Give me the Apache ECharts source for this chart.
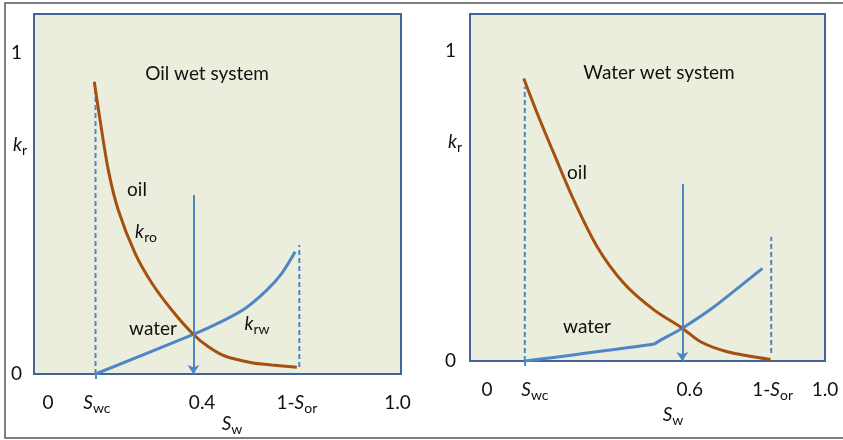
<!DOCTYPE html>
<html><head><meta charset="utf-8">
<script src="https://cdn.jsdelivr.net/npm/echarts@6/dist/echarts.min.js"></script>
<style>html,body{margin:0;padding:0;background:#fff}#c{width:843px;height:440px}</style>
</head><body><div id="c"></div>
<script>
// ---------- Oil wet system (left panel) ----------
const oilWetKro = [[0.1325,0.909],[0.149,0.790],[0.1725,0.635],[0.201,0.510],[0.249,0.376],[0.297,0.283],[0.354,0.199],[0.416,0.123],[0.459,0.085],[0.506,0.056],[0.583,0.035],[0.640,0.028],[0.712,0.021]];
const oilWetKrw = [[0.136,0],[0.416,0.123],[0.487,0.158],[0.564,0.204],[0.626,0.261],[0.669,0.313],[0.707,0.380]];
const oilWetSwcLine = [[0.136,0],[0.136,0.89]];
const oilWetSorLine = [[0.719,0.022],[0.719,0.401]];
const oilWetArrow = [[0.416,0.557],[0.416,0]];
const oilWetTickValues = [0, 0.14, 0.441, 0.712, 1.0];
const oilWetTickLabels = ['0', 'Swc', '0.4', '1-Sor', '1.0'];

// ---------- Water wet system (right panel) ----------
const waterWetKro = [[0.109,0.912],[0.149,0.799],[0.198,0.670],[0.257,0.519],[0.326,0.369],[0.405,0.251],[0.494,0.165],[0.578,0.106],[0.632,0.062],[0.711,0.030],[0.839,0.005]];
const waterWetKrw = [[0.114,0],[0.494,0.055],[0.515,0.068],[0.578,0.106],[0.672,0.175],[0.815,0.299]];
const waterWetSwcLine = [[0.112,0],[0.112,0.885]];
const waterWetSorLine = [[0.841,0.026],[0.841,0.401]];
const waterWetArrow = [[0.578,0.571],[0.578,0]];
const waterWetTickValues = [0, 0.142, 0.60, 0.845, 1.0];
const waterWetTickLabels = ['0', 'Swc', '0.6', '1-Sor', '1.0'];

const yTickValues = [0, 1];

const BROWN = '#A4500F';
const BLUE = '#4F86C4';
const BOX = '#41649A';
const BG = '#EBEEDD';
const FONT = 'Lato';
const TXT = '#111';

const rich = {
  n: {fontFamily: FONT, fontSize: 19, color: TXT, lineHeight: 22},
  i: {fontFamily: FONT, fontSize: 19, color: TXT, fontStyle: 'italic', lineHeight: 22},
  s: {fontFamily: FONT, fontSize: 14, color: TXT, lineHeight: 22, padding: [10, 0, 0, 0]}
};
function fmt(t) {
  if (t === 'Swc') return '{i|S}{s|wc}';
  if (t === '1-Sor') return '{n|1-}{i|S}{s|or}';
  return '{n|' + t + '}';
}
function xLabelFormatter(values, labels) {
  return function (v) {
    for (let k = 0; k < values.length; k++) if (Math.abs(values[k] - v) < 1e-6) return fmt(labels[k]);
    return '';
  };
}

function makeX(gridIndex, min, max, values, labels, swc) {
  return {
    type: 'value', gridIndex, min, max,
    axisLine: {show: false}, splitLine: {show: false},
    axisTick: {show: true, customValues: [swc], length: 8, inside: false,
      lineStyle: {color: BLUE, width: 2, type: [5, 3]}},
    axisLabel: {customValues: values, formatter: xLabelFormatter(values, labels), rich, margin: 18}
  };
}
function makeY(gridIndex, margin) {
  return {
    type: 'value', gridIndex, min: 0, max: 1.12,
    axisLine: {show: false}, splitLine: {show: false}, axisTick: {show: false},
    axisLabel: {customValues: yTickValues, formatter: v => '{n|' + v + '}', rich, margin}
  };
}
function curve(data, color, xi, smooth) {
  return {type: 'line', data, xAxisIndex: xi, yAxisIndex: xi, smooth, showSymbol: false, silent: true,
    lineStyle: {color, width: 3}, z: 3};
}
function dashed(data, xi) {
  return {type: 'line', data, xAxisIndex: xi, yAxisIndex: xi, showSymbol: false, silent: true,
    lineStyle: {color: BLUE, width: 2, type: [5, 3]}, z: 2};
}
function arrow(data, xi) {
  return {type: 'line', data: [], xAxisIndex: xi, yAxisIndex: xi, silent: true,
    markLine: {silent: true, symbol: ['none', 'arrow'], symbolSize: 9, label: {show: false},
      lineStyle: {color: BLUE, width: 2, type: 'solid'},
      data: [[{coord: data[0]}, {coord: data[1]}]]}, z: 2};
}
function txt(x, y, text) {
  return {type: 'text', x, y, z: 10, silent: true,
    style: {text, align: 'center', verticalAlign: 'middle', rich,
      font: '19px ' + FONT, fill: TXT}};
}

const chart = echarts.init(document.getElementById('c'), null, {renderer: 'canvas'});
chart.setOption({
  backgroundColor: '#fff',
  animation: false,
  grid: [
    {left: 34, top: 14, width: 367, height: 360, show: true, backgroundColor: BG, borderColor: BOX, borderWidth: 2},
    {left: 470, top: 14, width: 355, height: 347, show: true, backgroundColor: BG, borderColor: BOX, borderWidth: 2}
  ],
  xAxis: [
    makeX(0, -0.04, 1.01, oilWetTickValues, oilWetTickLabels, oilWetSwcLine[0][0]),
    makeX(1, -0.05, 1.0, waterWetTickValues, waterWetTickLabels, waterWetSwcLine[0][0])
  ],
  yAxis: [makeY(0, 12), makeY(1, 14)],
  series: [
    dashed(oilWetSwcLine, 0), dashed(oilWetSorLine, 0), arrow(oilWetArrow, 0),
    curve(oilWetKrw, BLUE, 0, 0.3), curve(oilWetKro, BROWN, 0, 0.3),
    dashed(waterWetSwcLine, 1), dashed(waterWetSorLine, 1), arrow(waterWetArrow, 1),
    curve(waterWetKrw, BLUE, 1, 0.15), curve(waterWetKro, BROWN, 1, 0.3)
  ],
  graphic: [
    {type: 'rect', shape: {x: 5, y: 3, width: 845, height: 435}, silent: true, z: 0,
      style: {fill: 'none', stroke: '#555', lineWidth: 1.5}},
    txt(207, 74, '{n|Oil wet system}'),
    txt(137, 190, '{n|oil}'),
    txt(146, 232, '{i|k}{s|ro}'),
    txt(153, 329, '{n|water}'),
    txt(257, 324, '{i|k}{s|rw}'),
    txt(20, 145, '{i|k}{s|r}'),
    txt(232, 424, '{i|S}{s|w}'),
    txt(659, 73, '{n|Water wet system}'),
    txt(577, 173, '{n|oil}'),
    txt(587, 327, '{n|water}'),
    txt(455, 142, '{i|k}{s|r}'),
    txt(673, 415, '{i|S}{s|w}')
  ]
});
</script>
</body></html>
